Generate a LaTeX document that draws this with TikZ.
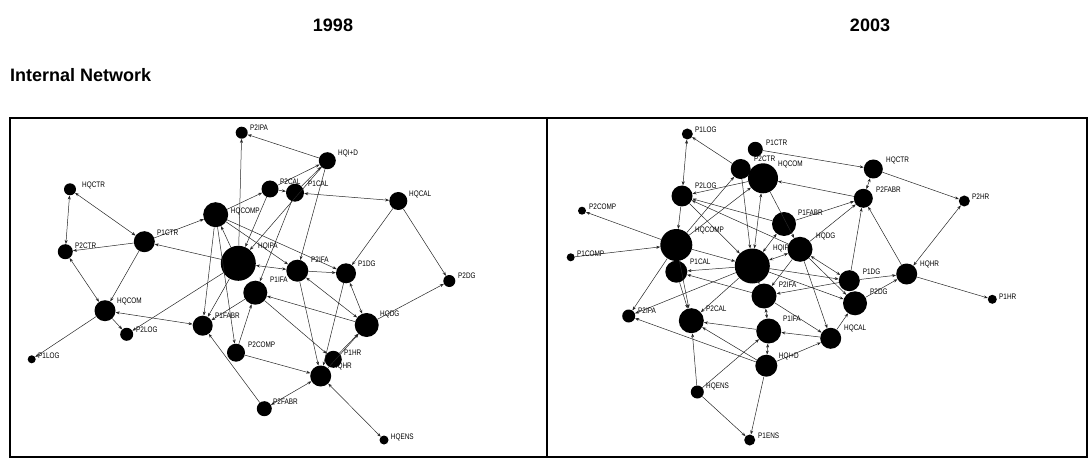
\documentclass[tikz,border=0pt]{standalone}
\usepackage{fontspec}
\setmainfont{Liberation Sans}
\newfontfamily\tagfont[FakeStretch=0.8]{Liberation Sans}
\usetikzlibrary{arrows.meta}
\tikzset{
  actor/.style={circle, fill=black, inner sep=0pt},
  tag/.style={anchor=west, inner sep=0pt, font=\tagfont\fontsize{8}{8}\selectfont},
  tie/.style={draw=black!85, line width=0.5pt, -{Stealth[length=4pt,width=3pt]}},
  tie2/.style={tie, {Stealth[length=4pt,width=3pt]}-{Stealth[length=4pt,width=3pt]}},
  heading/.style={font=\bfseries\fontsize{18}{18}\selectfont, inner sep=0pt},
}
\begin{document}
\begin{tikzpicture}[x=1pt,y=-1pt]
\useasboundingbox (0,0) rectangle (1091,462);
\node (y1998)[heading] at (333,25) {1998};
\node (y2003)[heading] at (870,25) {2003};
\node (intnet)[heading, anchor=west] at (10,75) {Internal Network};
\draw[line width=2pt] (10,118) rectangle (547,457);
\draw[line width=2pt] (547,118) rectangle (1087,457);

% 1998
\node (aP2IPA)[actor, minimum size=12pt] at (241.7,132.7) {};
\node (aHQCTR)[actor, minimum size=12pt] at (70,189.3) {};
\node (aP2CTR)[actor, minimum size=15pt] at (65.3,251.7) {};
\node (aP1CTR)[actor, minimum size=21pt] at (144.3,241.7) {};
\node (aHQCOMP)[actor, minimum size=25pt] at (215.7,214.7) {};
\node (aHQIPA)[actor, minimum size=35pt] at (238.3,263.3) {};
\node (aP2CAL)[actor, minimum size=17pt] at (270,189) {};
\node (aP1CAL)[actor, minimum size=18pt] at (295,192.7) {};
\node (aHQID)[actor, minimum size=17pt] at (327.3,160.7) {};
\node (aHQCAL)[actor, minimum size=18pt] at (398.3,201) {};
\node (aP2DG)[actor, minimum size=12pt] at (449.3,281) {};
\node (aP1DG)[actor, minimum size=20pt] at (346,273.3) {};
\node (aP2IFA)[actor, minimum size=22pt] at (297.3,270.7) {};
\node (aP1IFA)[actor, minimum size=24pt] at (255.3,292.7) {};
\node (aHQDG)[actor, minimum size=24pt] at (366.7,325) {};
\node (aP1HR)[actor, minimum size=17pt] at (333.3,359.3) {};
\node (aHQHR)[actor, minimum size=21pt] at (320.7,376) {};
\node (aHQENS)[actor, minimum size=9pt] at (384,440) {};
\node (aP2FABR)[actor, minimum size=15pt] at (264.3,408.7) {};
\node (aHQCOM)[actor, minimum size=21pt] at (105,310.7) {};
\node (aP2LOG)[actor, minimum size=13pt] at (126.7,334.3) {};
\node (aP1LOG)[actor, minimum size=8pt] at (31.7,359.3) {};
\node (aP1FABR)[actor, minimum size=20pt] at (202.7,325.7) {};
\node (aP2COMP)[actor, minimum size=18pt] at (236,352.7) {};

\draw[tie2] (aHQCTR) -- (aP2CTR);
\draw[tie2] (aHQCTR) -- (aP1CTR);
\draw[tie] (aP1CTR) -- (aP2CTR);
\draw[tie] (aP1CTR) -- (aHQCOMP);
\draw[tie] (aHQIPA) -- (aP1CTR);
\draw[tie2] (aHQCOM) -- (aP2CTR);
\draw[tie] (aP1CTR) -- (aHQCOM);
\draw[tie] (aHQIPA) -- (aP2IPA);
\draw[tie] (aHQID) -- (aP2IPA);
\draw[tie] (aHQCOMP) -- (aP2CAL);
\draw[tie] (aHQIPA) -- (aHQCOMP);
\draw[tie] (aHQCOMP) -- (aP2IFA);
\draw[tie] (aHQCOMP) -- (aP1DG);
\draw[tie] (aP2CAL) -- (aP1CAL);
\draw[tie] (aP1CAL) -- (aHQID);
\draw[tie] (aP2CAL) -- (aHQID);
\draw[tie2] (aP1CAL) -- (aHQCAL);
\draw[tie] (aP2CAL) -- (aHQIPA);
\draw[tie] (aHQID) -- (aHQIPA);
\draw[tie] (aHQID) -- (aP2IFA);
\draw[tie] (aP1CAL) -- (aP1IFA);
\draw[tie2] (aHQIPA) -- (aP2IFA);
\draw[tie] (aP2IFA) -- (aP1DG);
\draw[tie] (aHQCAL) -- (aP1DG);
\draw[tie] (aHQCAL) -- (aP2DG);
\draw[tie] (aP1DG) -- (aHQHR);
\draw[tie2] (aP1DG) -- (aHQDG);
\draw[tie2] (aP2IFA) -- (aHQDG);
\draw[tie] (aHQDG) -- (aP1IFA);
\draw[tie] (aP1IFA) -- (aP1HR);
\draw[tie] (aP2IFA) -- (aHQHR);
\draw[tie] (aP1HR) -- (aHQDG);
\draw[tie] (aHQHR) -- (aHQDG);
\draw[tie2] (aHQENS) -- (aHQHR);
\draw[tie] (aHQDG) -- (aP2DG);
\draw[tie] (aP2COMP) -- (aHQHR);
\draw[tie2] (aP2FABR) -- (aHQHR);
\draw[tie] (aP2FABR) -- (aP1FABR);
\draw[tie2] (aHQCOM) -- (aP1FABR);
\draw[tie] (aHQCOM) -- (aP2LOG);
\draw[tie] (aHQIPA) -- (aP2LOG);
\draw[tie] (aHQCOM) -- (aP1LOG);
\draw[tie] (aHQCOMP) -- (aP1FABR);
\draw[tie] (aHQIPA) -- (aP1FABR);
\draw[tie] (aP1IFA) -- (aP1FABR);
\draw[tie] (aHQCOMP) -- (aP2COMP);
\draw[tie] (aP2COMP) -- (aP1IFA);

\node (aP2IPA-t)[tag] at (250,128) {P2IPA};
\node (aHQCTR-t)[tag] at (82,185) {HQCTR};
\node (aP2CTR-t)[tag] at (75,246) {P2CTR};
\node (aP1CTR-t)[tag] at (157,232.7) {P1CTR};
\node (aHQCOMP-t)[tag] at (230.7,211) {HQCOMP};
\node (aHQIPA-t)[tag] at (258,246) {HQIPA};
\node (aP2CAL-t)[tag] at (280,181.7) {P2CAL};
\node (aP1CAL-t)[tag] at (308,184) {P1CAL};
\node (aHQID-t)[tag] at (338,153) {HQI+D};
\node (aHQCAL-t)[tag] at (409,194) {HQCAL};
\node (aP2DG-t)[tag] at (458,276) {P2DG};
\node (aP1DG-t)[tag] at (358,264) {P1DG};
\node (aP2IFA-t)[tag] at (311,260) {P2IFA};
\node (aP1IFA-t)[tag] at (270,280) {P1IFA};
\node (aHQDG-t)[tag] at (380,314) {HQDG};
\node (aP1HR-t)[tag] at (344,352.7) {P1HR};
\node (aHQHR-t)[tag] at (332.7,366.7) {HQHR};
\node (aHQENS-t)[tag] at (390.7,437) {HQENS};
\node (aP2FABR-t)[tag] at (273,402) {P2FABR};
\node (aHQCOM-t)[tag] at (117,301.7) {HQCOM};
\node (aP2LOG-t)[tag] at (136,330) {P2LOG};
\node (aP1LOG-t)[tag] at (38,356) {P1LOG};
\node (aP1FABR-t)[tag] at (215,316) {P1FABR};
\node (aP2COMP-t)[tag] at (248,345) {P2COMP};

% 2003
\node (bP1LOG)[actor, minimum size=11pt] at (687.3,134) {};
\node (bP1CTR)[actor, minimum size=15pt] at (755.3,149.3) {};
\node (bP2CTR)[actor, minimum size=20pt] at (740.7,169) {};
\node (bHQCOM)[actor, minimum size=30pt] at (763,178.3) {};
\node (bP2LOG)[actor, minimum size=21pt] at (682,196) {};
\node (bP2COMP)[actor, minimum size=8pt] at (582,210.7) {};
\node (bHQCOMP)[actor, minimum size=32pt] at (676.3,245) {};
\node (bP1COMP)[actor, minimum size=8pt] at (570.7,257.3) {};
\node (bP1CAL)[actor, minimum size=22pt] at (676.3,271.7) {};
\node (bHQIPA)[actor, minimum size=35pt] at (752.3,266) {};
\node (bHQDG)[actor, minimum size=25pt] at (800,249.3) {};
\node (bP1FABR)[actor, minimum size=24pt] at (784,224) {};
\node (bP2FABR)[actor, minimum size=19pt] at (863.3,198.3) {};
\node (bHQCTR)[actor, minimum size=19pt] at (873.3,169) {};
\node (bP2HR)[actor, minimum size=11pt] at (964.3,201) {};
\node (bHQHR)[actor, minimum size=21pt] at (906.7,274) {};
\node (bP1DG)[actor, minimum size=21pt] at (849.3,280.7) {};
\node (bP2DG)[actor, minimum size=24pt] at (855,303.3) {};
\node (bHQCAL)[actor, minimum size=21pt] at (830.7,338.3) {};
\node (bP1HR)[actor, minimum size=9pt] at (992.3,299.3) {};
\node (bP2IFA)[actor, minimum size=25pt] at (764,296) {};
\node (bP1IFA)[actor, minimum size=25pt] at (768.7,331) {};
\node (bHQID)[actor, minimum size=22pt] at (766.3,365.7) {};
\node (bP2CAL)[actor, minimum size=25pt] at (691.3,320.7) {};
\node (bP2IPA)[actor, minimum size=13pt] at (628.7,316) {};
\node (bHQENS)[actor, minimum size=13pt] at (697.3,392) {};
\node (bP1ENS)[actor, minimum size=11pt] at (749.7,440) {};

\draw[tie2] (bP1LOG) -- (bP2LOG);
\draw[tie] (bP2CTR) -- (bP1LOG);
\draw[tie] (bP1CTR) -- (bHQCTR);
\draw[tie] (bP2FABR) -- (bHQCOM);
\draw[tie] (bHQCOM) -- (bP2LOG);
\draw[tie] (bP2LOG) -- (bHQCOMP);
\draw[tie] (bP1FABR) -- (bP2LOG);
\draw[tie] (bHQDG) -- (bP2LOG);
\draw[tie] (bP2LOG) -- (bHQIPA);
\draw[tie] (bHQCOMP) -- (bP2COMP);
\draw[tie] (bP1COMP) -- (bHQCOMP);
\draw[tie] (bHQCOMP) -- (bP2CTR);
\draw[tie] (bHQCOMP) -- (bHQCOM);
\draw[tie2] (bHQIPA) -- (bHQCOM);
\draw[tie] (bP2CTR) -- (bHQIPA);
\draw[tie] (bHQCOM) -- (bHQDG);
\draw[tie] (bHQCOMP) -- (bHQIPA);
\draw[tie] (bHQIPA) -- (bP1CAL);
\draw[tie] (bP1FABR) -- (bP2FABR);
\draw[tie2] (bP1FABR) -- (bHQIPA);
\draw[tie2] (bHQIPA) -- (bHQDG);
\draw[tie] (bHQIPA) -- (bP1DG);
\draw[tie] (bHQIPA) -- (bP2DG);
\draw[tie] (bHQIPA) -- (bP2CAL);
\draw[tie] (bHQIPA) -- (bP2IFA);
\draw[tie] (bHQDG) -- (bP2IFA);
\draw[tie] (bHQDG) -- (bHQCAL);
\draw[tie2] (bHQDG) -- (bP1DG);
\draw[tie] (bHQDG) -- (bP2DG);
\draw[tie] (bP1DG) -- (bP2IFA);
\draw[tie] (bP2IFA) -- (bP1CAL);
\draw[tie] (bP2IFA) -- (bHQCAL);
\draw[tie] (bP1CAL) -- (bP2CAL);
\draw[tie] (bHQCOMP) -- (bP2CAL);
\draw[tie] (bP1IFA) -- (bP2CAL);
\draw[tie] (bHQID) -- (bP2CAL);
\draw[tie] (bHQID) -- (bP2IPA);
\draw[tie] (bHQIPA) -- (bP2IPA);
\draw[tie] (bHQCOMP) -- (bP2IPA);
\draw[tie] (bHQENS) -- (bP2CAL);
\draw[tie] (bHQENS) -- (bP1IFA);
\draw[tie] (bHQENS) -- (bP1ENS);
\draw[tie] (bHQID) -- (bP1ENS);
\draw[tie2] (bP1IFA) -- (bHQID);
\draw[tie2] (bP2IFA) -- (bP1IFA);
\draw[tie] (bHQCAL) -- (bP1IFA);
\draw[tie] (bHQID) -- (bHQCAL);
\draw[tie] (bHQCAL) -- (bP2DG);
\draw[tie] (bP2DG) -- (bHQHR);
\draw[tie] (bP1DG) -- (bHQHR);
\draw[tie] (bP1DG) -- (bP2FABR);
\draw[tie] (bHQHR) -- (bP2FABR);
\draw[tie2] (bHQHR) -- (bP2HR);
\draw[tie] (bHQCTR) -- (bP2HR);
\draw[tie2] (bP2FABR) -- (bHQCTR);
\draw[tie] (bHQHR) -- (bP1HR);
\draw[tie] (bHQDG) -- (bP2FABR);

\node (bP1LOG-t)[tag] at (695,130) {P1LOG};
\node (bP1CTR-t)[tag] at (766,143) {P1CTR};
\node (bP2CTR-t)[tag] at (754,159) {P2CTR};
\node (bHQCOM-t)[tag] at (778,164) {HQCOM};
\node (bP2LOG-t)[tag] at (695,186) {P2LOG};
\node (bP2COMP-t)[tag] at (589,207) {P2COMP};
\node (bHQCOMP-t)[tag] at (695,230.7) {HQCOMP};
\node (bP1COMP-t)[tag] at (577,254) {P1COMP};
\node (bP1CAL-t)[tag] at (690,262) {P1CAL};
\node (bHQIPA-t)[tag] at (773,248) {HQIPA};
\node (bHQDG-t)[tag] at (816,236) {HQDG};
\node (bP1FABR-t)[tag] at (798,212.7) {P1FABR};
\node (bP2FABR-t)[tag] at (876,190) {P2FABR};
\node (bHQCTR-t)[tag] at (886,160.7) {HQCTR};
\node (bP2HR-t)[tag] at (972,197) {P2HR};
\node (bHQHR-t)[tag] at (920,264) {HQHR};
\node (bP1DG-t)[tag] at (862.7,271.7) {P1DG};
\node (bP2DG-t)[tag] at (870,291.7) {P2DG};
\node (bHQCAL-t)[tag] at (844,328) {HQCAL};
\node (bP1HR-t)[tag] at (999,296.7) {P1HR};
\node (bP2IFA-t)[tag] at (778.7,285) {P2IFA};
\node (bP1IFA-t)[tag] at (783,319) {P1IFA};
\node (bHQID-t)[tag] at (778.7,356) {HQI+D};
\node (bP2CAL-t)[tag] at (706,309) {P2CAL};
\node (bP2IPA-t)[tag] at (638,310.7) {P2IPA};
\node (bHQENS-t)[tag] at (706,386.7) {HQENS};
\node (bP1ENS-t)[tag] at (758,435.7) {P1ENS};
\end{tikzpicture}
\end{document}
